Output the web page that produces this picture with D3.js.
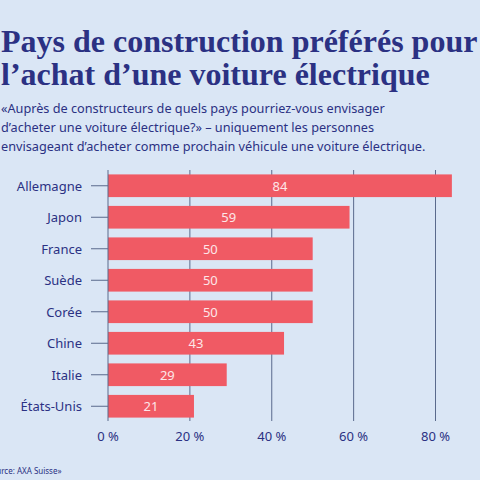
<!DOCTYPE html>
<html><head><meta charset="utf-8">
<script src="https://cdn.jsdelivr.net/npm/d3@7"></script>
<style>body{margin:0;background:#dae6f5;overflow:hidden}</style>
</head><body><svg id="c" width="480" height="480"></svg>
<script>
const categories=["Allemagne","Japon","France","Suède","Corée","Chine","Italie","États-Unis"];
const values=[84,59,50,50,50,43,29,21];
const ticks=[0,20,40,60,80];
const svg=d3.select("#c");
const navy="#2b3183";
svg.append("rect").attr("width",480).attr("height",480).attr("fill","#dae6f5");
const t=svg.append("text").attr("font-family","Liberation Serif, DejaVu Serif, serif").attr("font-weight","bold").attr("font-size",32).attr("fill",navy);
t.append("tspan").attr("x",1).attr("y",52).text("Pays de construction préférés pour");
t.append("tspan").attr("x",1).attr("y",85).text("l’achat d’une voiture électrique");
const s=svg.append("text").attr("font-family","Noto Sans, sans-serif").attr("font-size",12.7).attr("fill",navy);
["«Auprès de constructeurs de quels pays pourriez-vous envisager","d’acheter une voiture électrique?» – uniquement les personnes","envisageant d’acheter comme prochain véhicule une voiture électrique."].forEach((l,i)=>s.append("tspan").attr("x",1).attr("y",113+i*19).text(l));
const x=d3.scaleLinear().domain([0,80]).range([108,435.5]);
const y=d3.scaleBand().domain(categories).range([170,422]).paddingInner(0.28).paddingOuter(0.14);
svg.selectAll(".g").data(ticks.slice(1)).join("line").attr("x1",d=>x(d)).attr("x2",d=>x(d)).attr("y1",170).attr("y2",421).attr("stroke","#5a6a8c").attr("stroke-width",1);
svg.selectAll(".b").data(values).join("rect").attr("x",x(0)).attr("y",(d,i)=>y(categories[i])).attr("width",d=>x(d)-x(0)).attr("height",y.bandwidth()).attr("fill","#f05a64");
svg.selectAll(".v").data(values).join("text").attr("x",d=>(x(0)+x(d))/2).attr("y",(d,i)=>y(categories[i])+y.bandwidth()/2+5).attr("text-anchor","middle").attr("font-family","Noto Sans, sans-serif").attr("font-size",13).attr("fill","#fde6e8").text(d=>d);
svg.append("line").attr("x1",x(0)).attr("x2",x(0)).attr("y1",170).attr("y2",421).attr("stroke","#5a6a8c");
svg.selectAll(".yt").data(categories).join("line").attr("x1",91).attr("x2",108).attr("y1",d=>y(d)+y.bandwidth()/2).attr("y2",d=>y(d)+y.bandwidth()/2).attr("stroke","#5a6a8c");
svg.selectAll(".yl").data(categories).join("text").attr("x",82).attr("y",d=>y(d)+y.bandwidth()/2+5).attr("text-anchor","end").attr("font-family","Noto Sans, sans-serif").attr("font-size",13).attr("fill",navy).text(d=>d);
svg.selectAll(".xl").data(ticks).join("text").attr("x",d=>x(d)).attr("y",441).attr("text-anchor","middle").attr("font-family","Noto Sans, sans-serif").attr("font-size",13).attr("fill",navy).text(d=>d+" %");
svg.append("text").attr("x",-13).attr("y",474).attr("font-family","Noto Sans, sans-serif").attr("font-size",8).attr("fill",navy).text("Source: AXA Suisse»");
</script></body></html>
